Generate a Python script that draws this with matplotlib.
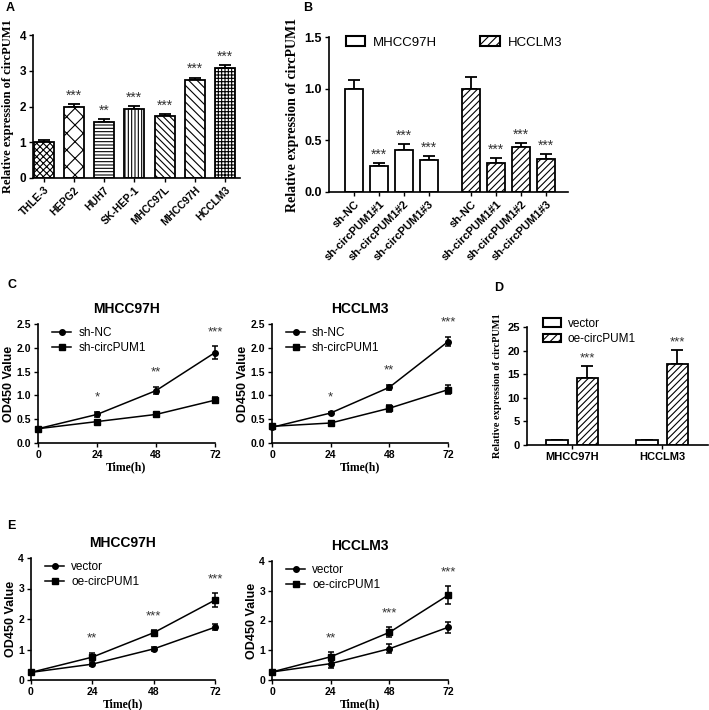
import numpy as np
import matplotlib.pyplot as plt
from matplotlib.patches import Patch
from matplotlib.lines import Line2D

plt.rcParams['font.family'] = ['Liberation Sans', 'DejaVu Sans']
plt.rcParams['hatch.linewidth'] = 0.8
SERIF = 'Liberation Serif'

# A: circPUM1 in cell lines
cells = ['THLE-3', 'HEPG2', 'HUH7', 'SK-HEP-1', 'MHCC97L', 'MHCC97H', 'HCCLM3']
cell_expr = [1.0, 2.0, 1.58, 1.93, 1.73, 2.73, 3.08]
cell_err = [0.07, 0.06, 0.07, 0.09, 0.05, 0.08, 0.07]
cell_sig = ['', '***', '**', '***', '***', '***', '***']
cell_hatch = ['xxxxx', 'xx', '-----', '|||||', '\\\\\\\\\\', '\\\\\\\\', '+++++']

# B: knockdown
sh_groups = ['sh-NC', 'sh-circPUM1#1', 'sh-circPUM1#2', 'sh-circPUM1#3']
kd_97h = [1.0, 0.25, 0.41, 0.31]
kd_97h_err = [0.08, 0.03, 0.05, 0.04]
kd_lm3 = [1.0, 0.28, 0.44, 0.32]
kd_lm3_err = [0.11, 0.05, 0.03, 0.05]
kd_sig = ['', '***', '***', '***']

# C: CCK-8 after knockdown
hours = [0, 24, 48, 72]
c97h_nc = [0.3, 0.6, 1.1, 1.9]
c97h_nc_err = [0.02, 0.06, 0.08, 0.13]
c97h_sh = [0.3, 0.45, 0.6, 0.9]
c97h_sh_err = [0.02, 0.03, 0.05, 0.07]
clm3_nc = [0.33, 0.63, 1.17, 2.13]
clm3_nc_err = [0.02, 0.03, 0.05, 0.1]
clm3_sh = [0.35, 0.42, 0.73, 1.12]
clm3_sh_err = [0.03, 0.05, 0.07, 0.1]
c_sig = ['', '*', '**', '***']

# D: overexpression
oe_cells = ['MHCC97H', 'HCCLM3']
oe_vec = [1.0, 1.0]
oe_vec_err = [0.1, 0.1]
oe_oe = [14.3, 17.2]
oe_oe_err = [2.5, 3.0]

# E: CCK-8 after overexpression
e97h_vec = [0.25, 0.52, 1.02, 1.73]
e97h_vec_err = [0.03, 0.05, 0.07, 0.1]
e97h_oe = [0.25, 0.75, 1.55, 2.62]
e97h_oe_err = [0.03, 0.13, 0.08, 0.22]
elm3_vec = [0.27, 0.55, 1.05, 1.77]
elm3_vec_err = [0.03, 0.13, 0.15, 0.18]
elm3_oe = [0.27, 0.78, 1.6, 2.85]
elm3_oe_err = [0.03, 0.15, 0.17, 0.3]
e_sig = ['', '**', '***', '***']

W, H = 709, 710
fig = plt.figure(figsize=(W / 100, H / 100), dpi=100)


def add_ax(l, r, t, b):
    return fig.add_axes([l / W, 1 - b / H, (r - l) / W, (b - t) / H])


def prism(ax, lw=1.2):
    for s in ['top', 'right']:
        ax.spines[s].set_visible(False)
    for s in ['left', 'bottom']:
        ax.spines[s].set_linewidth(lw)
    ax.tick_params(direction='out', length=3, width=1, pad=2)
    for t in ax.get_yticklabels() + ax.get_xticklabels():
        t.set_fontweight('bold')


def bars(ax, x, y, err, hatch, width):
    ax.bar(x, y, width, color='white', edgecolor='black', linewidth=1.3, hatch=hatch, zorder=2)
    ax.errorbar(x, y, yerr=[np.zeros(len(y)), err], fmt='none', ecolor='black',
                elinewidth=1.3, capsize=4, capthick=1.3, zorder=1)


def stars(ax, x, top, labels, size=10):
    for xi, yi, s in zip(x, top, labels):
        if s:
            ax.annotate(s, (xi, yi), xytext=(0, 1), textcoords='offset points',
                        ha='center', va='bottom', fontsize=size, color='#333333')


# ---- A
ax = add_ax(33, 240, 35, 178)
xa = np.arange(len(cells))
for i in range(len(cells)):
    bars(ax, [xa[i]], [cell_expr[i]], [cell_err[i]], cell_hatch[i], 0.66)
stars(ax, xa, np.array(cell_expr) + np.array(cell_err), cell_sig)
ax.set_xlim(-0.36, 6.5)
ax.set_ylim(0, 4)
ax.set_yticks([0, 1, 2, 3, 4])
ax.set_xticks(xa)
ax.set_xticklabels(cells, rotation=45, ha='right', rotation_mode='anchor', fontsize=7.5)
ax.tick_params(axis='y', labelsize=8.5)
ax.set_ylabel('Relative expression of circPUM1', family=SERIF, fontweight='bold', fontsize=9)
prism(ax)

# ---- B
ax = add_ax(329, 568, 37, 192)
xb1 = np.arange(4)
xb2 = xb1 + 4.7
bars(ax, xb1, kd_97h, kd_97h_err, None, 0.72)
bars(ax, xb2, kd_lm3, kd_lm3_err, '/////', 0.72)
stars(ax, xb1, np.array(kd_97h) + np.array(kd_97h_err), kd_sig)
stars(ax, xb2, np.array(kd_lm3) + np.array(kd_lm3_err), kd_sig)
ax.set_xlim(-1.0, 8.58)
ax.set_ylim(0, 1.5)
ax.set_yticks([0, 0.5, 1.0, 1.5])
ax.set_yticklabels(['0.0', '0.5', '1.0', '1.5'])
ax.set_xticks(np.concatenate([xb1, xb2]))
ax.set_xticklabels(sh_groups * 2, rotation=45, ha='right', rotation_mode='anchor', fontsize=8)
ax.tick_params(axis='y', labelsize=9)
ax.set_ylabel('Relative expression of circPUM1', family=SERIF, fontweight='bold', fontsize=10)
h = [Patch(facecolor='white', edgecolor='black', linewidth=1.5),
     Patch(facecolor='white', edgecolor='black', linewidth=1.5, hatch='////')]
ax.legend(h, ['MHCC97H', 'HCCLM3'], ncol=2, loc='upper left', bbox_to_anchor=(0.02, 1.08),
          frameon=False, fontsize=9.5, columnspacing=3.2, handlelength=1.5, handletextpad=0.6)
prism(ax)


def growth(ax, a, a_err, b, b_err, sig, labels, ymax, yticks, title):
    for y, e, m in [(a, a_err, 'o'), (b, b_err, 's')]:
        ax.errorbar(hours, y, yerr=e, color='black', marker=m, markersize=4, lw=1.1,
                    capsize=2.5, elinewidth=1.1, capthick=1.1)
    for art in ax.lines + ax.collections:
        art.set_clip_on(False)
    top = np.maximum(np.array(a) + np.array(a_err), np.array(b) + np.array(b_err))
    for xi, yi, s in zip(hours, top, sig):
        if s:
            ax.annotate(s, (xi, yi), xytext=(0, 6), textcoords='offset points',
                        ha='center', va='bottom', fontsize=9.5, color='#333333')
    ax.set_xlim(0, 72)
    ax.set_ylim(0, ymax)
    ax.set_xticks(hours)
    ax.set_yticks(yticks)
    ax.tick_params(labelsize=7.5)
    ax.set_xlabel('Time(h)', family=SERIF, fontweight='bold', fontsize=8.5, labelpad=1)
    ax.set_ylabel('OD450 Value', fontweight='bold', fontsize=9, labelpad=1)
    ax.set_title(title, fontweight='bold', fontsize=10, pad=8)
    handles = [Line2D([], [], color='black', lw=1.1, marker='o', markersize=4),
               Line2D([], [], color='black', lw=1.1, marker='s', markersize=4)]
    ax.legend(handles, labels, loc='upper left', bbox_to_anchor=(0.02, 1.06), frameon=False,
              fontsize=8.5, handlelength=1.6, handletextpad=0.6, labelspacing=0.25)
    prism(ax)


# ---- C
yt_c = [0.0, 0.5, 1.0, 1.5, 2.0, 2.5]
ax = add_ax(38, 215, 324, 443)
growth(ax, c97h_nc, c97h_nc_err, c97h_sh, c97h_sh_err, c_sig, ['sh-NC', 'sh-circPUM1'], 2.5, yt_c, 'MHCC97H')
ax.set_yticklabels(['%.1f' % v for v in yt_c])
ax = add_ax(272, 448, 324, 443)
growth(ax, clm3_nc, clm3_nc_err, clm3_sh, clm3_sh_err, c_sig, ['sh-NC', 'sh-circPUM1'], 2.5, yt_c, 'HCCLM3')
ax.set_yticklabels(['%.1f' % v for v in yt_c])

# ---- D
ax = add_ax(527, 708, 327, 445)
xd = np.arange(len(oe_cells))
bars(ax, xd - 0.17, oe_vec, oe_vec_err, None, 0.24)
bars(ax, xd + 0.17, oe_oe, oe_oe_err, '/////', 0.24)
stars(ax, xd + 0.17, np.array(oe_oe) + np.array(oe_oe_err), ['***', '***'], size=9.5)
ax.set_xlim(-0.5, 1.51)
ax.set_ylim(0, 25)
ax.set_yticks([0, 5, 10, 15, 20, 25])
ax.set_xticks(xd)
ax.set_xticklabels(oe_cells, fontsize=8)
ax.tick_params(axis='x', length=0)
ax.tick_params(axis='y', labelsize=8)
ax.set_ylabel('Relative expression of circPUM1', family=SERIF, fontweight='bold', fontsize=7.5)
ax.legend(h, ['vector', 'oe-circPUM1'], loc='upper left', bbox_to_anchor=(0.03, 1.17),
          frameon=False, fontsize=8.5, handlelength=1.5, handletextpad=0.6, labelspacing=0.3)
prism(ax)

# ---- E
yt_e = [0, 1, 2, 3, 4]
ax = add_ax(31, 215, 558, 680)
growth(ax, e97h_vec, e97h_vec_err, e97h_oe, e97h_oe_err, e_sig, ['vector', 'oe-circPUM1'], 4, yt_e, 'MHCC97H')
ax = add_ax(272, 448, 561, 680)
growth(ax, elm3_vec, elm3_vec_err, elm3_oe, elm3_oe_err, e_sig, ['vector', 'oe-circPUM1'], 4, yt_e, 'HCCLM3')

# panel letters
for lab, x, y in [('A', 6, 8), ('B', 303, 8), ('C', 7, 285), ('D', 494, 288), ('E', 7, 526)]:
    fig.text(x / W, 1 - y / H, lab, fontweight='bold', fontsize=9, va='center')

fig.savefig('out.png', dpi=100)
